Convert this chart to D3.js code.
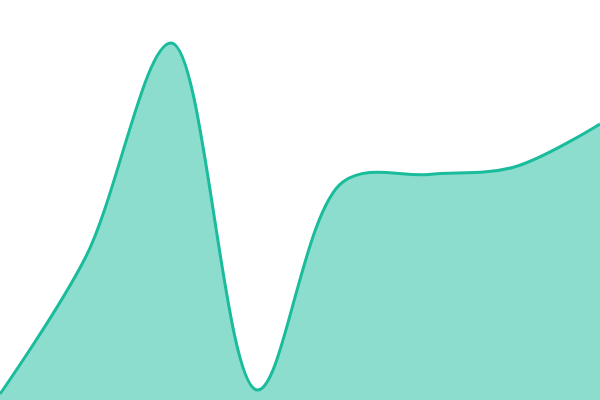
<!DOCTYPE html>
<html>
<head>
<meta charset="utf-8">
<script src="https://cdn.jsdelivr.net/npm/d3@7"></script>
<style>
  body { margin: 0; background: #fff; }
</style>
</head>
<body>
<div id="chart"></div>
<script>
const labels = ["A", "B", "C", "D", "E", "F", "G", "H"];
const values = [1.5, 35.75, 89.25, 2.5, 54.5, 56.4, 58.25, 69];

const width = 600;
const height = 400;

const svg = d3.select("#chart")
  .append("svg")
  .attr("width", width)
  .attr("height", height);

const x = d3.scalePoint().domain(labels).range([0, width]);
const y = d3.scaleLinear().domain([0, 100]).range([height, 0]);

const data = labels.map((l, i) => ({ label: l, value: values[i] }));

const area = d3.area()
  .x(d => x(d.label))
  .y0(height)
  .y1(d => y(d.value))
  .curve(d3.curveCatmullRom);

const line = d3.line()
  .x(d => x(d.label))
  .y(d => y(d.value))
  .curve(d3.curveCatmullRom);

svg.append("path")
  .datum(data)
  .attr("d", area)
  .attr("fill", "#1abc9c")
  .attr("fill-opacity", 0.5);

svg.append("path")
  .datum(data)
  .attr("d", line)
  .attr("fill", "none")
  .attr("stroke", "#1abc9c")
  .attr("stroke-width", 3);
</script>
</body>
</html>
